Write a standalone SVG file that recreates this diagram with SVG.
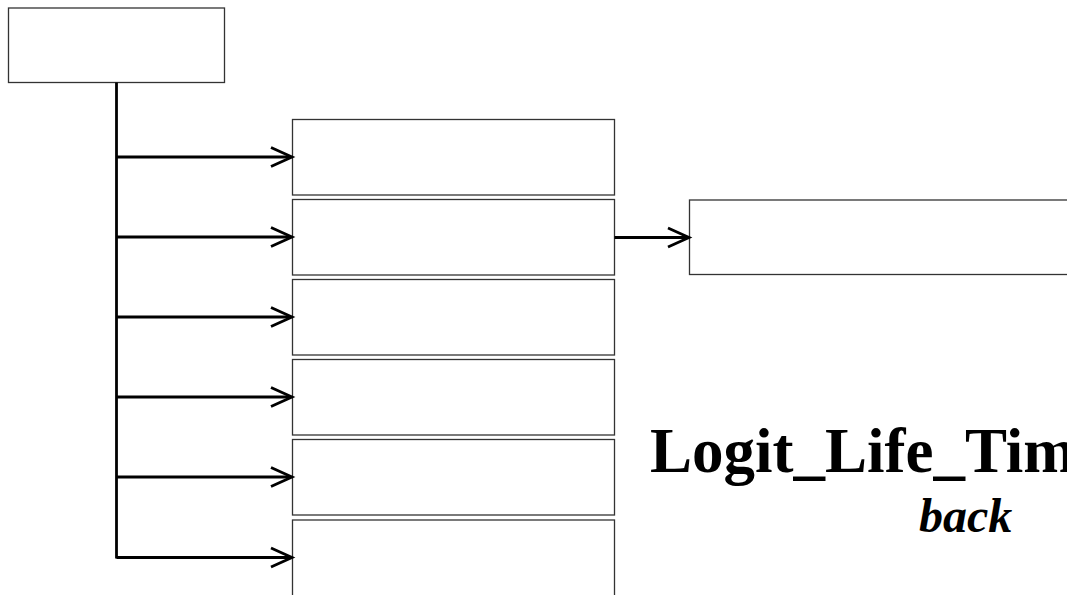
<svg xmlns="http://www.w3.org/2000/svg" width="1067" height="595" viewBox="0 0 1067 595">
<style>
.box{fill:#fff;stroke:#333;stroke-width:1.3}
.ln{fill:none;stroke:#000;stroke-width:2.8}
.ah{fill:none;stroke:#000;stroke-width:2.8;stroke-linejoin:miter}
.t{font-family:"Liberation Serif","Times New Roman",serif;font-weight:bold;fill:#000}
</style>
<rect width="1067" height="595" fill="#fff"/>
<g id="root"><rect class="box" x="8.5" y="8" width="216" height="74.5"/></g>
<g id="n1"><rect class="box" x="292.5" y="119.5" width="322" height="75.5"/></g>
<g id="n2"><rect class="box" x="292.5" y="199.5" width="322" height="75.5"/></g>
<g id="n3"><rect class="box" x="292.5" y="279.5" width="322" height="75.5"/></g>
<g id="n4"><rect class="box" x="292.5" y="359.5" width="322" height="75.5"/></g>
<g id="n5"><rect class="box" x="292.5" y="439.5" width="322" height="75.5"/></g>
<g id="n6"><rect class="box" x="292.5" y="520" width="322" height="90"/></g>
<g id="n7"><rect class="box" x="689.5" y="200" width="400" height="74.5"/></g>
<g id="connectors">
<path class="ln" d="M116.5 82.5V558.5"/>
<path class="ln" d="M116.5 157H291M116.5 237H291M116.5 317H291M116.5 397H291M116.5 477H291M116.5 557.5H291M614.5 237.5H688"/>
<path class="ah" d="M271 147.5L292 157L271 166.5"/>
<path class="ah" d="M271 227.5L292 237L271 246.5"/>
<path class="ah" d="M271 307.5L292 317L271 326.5"/>
<path class="ah" d="M271 387.5L292 397L271 406.5"/>
<path class="ah" d="M271 467.5L292 477L271 486.5"/>
<path class="ah" d="M271 548L292 557.5L271 567"/>
<path class="ah" d="M668 228L689 237.5L668 247"/>
</g>
<g id="title">
<text class="t" font-size="63" x="650" y="472">Logit_Life_Tim</text>
<text class="t" font-style="italic" font-size="48" x="919" y="532">back</text>
</g>
</svg>
